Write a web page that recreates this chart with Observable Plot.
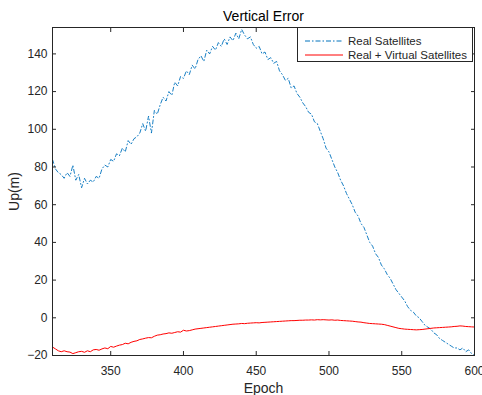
<!DOCTYPE html>
<html>
<head>
<meta charset="utf-8">
<script src="https://cdn.jsdelivr.net/npm/d3@7"></script>
<script src="https://cdn.jsdelivr.net/npm/@observablehq/plot@0.6"></script>
<style>
  html, body { margin: 0; padding: 0; background: #fff; }
  #wrap { position: relative; width: 482px; height: 395px; overflow: hidden; font-family: "Liberation Sans", Arial, sans-serif; }
  #legend { position: absolute; left: 297px; top: 27px; width: 176px; height: 35px; border: 1px solid #262626; background: #fff; box-sizing: border-box; font-size: 11.5px; color: #262626; }
  #legend .row { position: absolute; left: 0; height: 14px; display: flex; align-items: center; }
  #legend svg { margin-left: 7px; margin-right: 5px; }
</style>
</head>
<body>
<div id="wrap"></div>
<script>
const epochs = [310,312,314,316,318,320,322,324,326,328,330,332,334,336,338,340,342,344,346,348,350,352,354,356,358,360,362,364,366,368,370,372,374,376,378,380,382,384,386,388,390,392,394,396,398,400,402,404,406,408,410,412,414,416,418,420,422,424,426,428,430,432,434,436,438,440,442,444,446,448,450,452,454,456,458,460,462,464,466,468,470,472,474,476,478,480,482,484,486,488,490,492,494,496,498,500,502,504,506,508,510,512,514,516,518,520,522,524,526,528,530,532,534,536,538,540,542,544,546,548,550,552,554,556,558,560,562,564,566,568,570,572,574,576,578,580,582,584,586,588,590,592,594,596,598,600];

const realSat = [84,79,77,76,74,77,75,81,73,76,69,74,71,73,72,75,74,79,81,80,84,83,87,86,90,88,94,92,95,96,98,103,99,107,98,110,108,113,117,115,120,118,125,123,128,127,131,129,134,132,137,139,136,142,140,144,142,146,144,148,145,149,147,151,148,153,150,148,149,145,143,144,140,141,137,138,135,136,131,129,126,127,122,123,119,117,114,112,109,108,104,103,99,95,90,88,84,80,77,73,70,66,63,60,56,54,50,48,44,40,38,34,32,28,26,23,21,18,15,13,11,9,6,4,3,1,0,-2,-4,-5,-6,-8,-9,-11,-12,-13,-14,-15,-16,-16,-17,-16,-18,-17,-19,-20];

const realVirtual = [-15.5,-16.5,-17.5,-18,-17.5,-18,-18.2,-19,-18.5,-18,-17.8,-18.3,-17.5,-18,-17,-16.8,-17.2,-16.5,-16,-16.4,-15.2,-15.6,-15,-14.5,-14.2,-13.5,-13.8,-13,-12.5,-12.2,-11.5,-11.2,-10.8,-10.5,-10.6,-9.8,-9.2,-9,-8.6,-8.4,-8,-8.2,-7.8,-7.4,-7.6,-6.6,-7,-6.8,-6.4,-6,-5.8,-5.6,-5.4,-5.2,-5,-4.8,-4.6,-4.4,-4.2,-4,-3.8,-3.6,-3.4,-3.3,-3.2,-3,-3.1,-2.9,-2.8,-2.7,-2.6,-2.7,-2.5,-2.4,-2.3,-2.2,-2.1,-2,-1.9,-1.8,-1.7,-1.6,-1.5,-1.5,-1.4,-1.3,-1.3,-1.2,-1.2,-1.1,-1.2,-1.0,-1.1,-1.0,-1.1,-1.2,-1.1,-1.3,-1.2,-1.4,-1.5,-1.6,-1.7,-1.8,-2.0,-2.2,-2.3,-2.6,-2.8,-3.0,-3.1,-3.2,-3.3,-3.4,-3.6,-4.0,-4.4,-4.8,-5.2,-5.6,-5.8,-6,-6.1,-6.2,-6.3,-6.4,-6.3,-6.2,-6.0,-5.8,-5.6,-5.4,-5.3,-5.2,-5.1,-5.0,-4.9,-4.8,-4.6,-4.5,-4.3,-4.4,-4.6,-4.7,-4.8,-4.9];

const xTicks = [350, 400, 450, 500, 550, 600];
const yTicks = [-20, 0, 20, 40, 60, 80, 100, 120, 140];
const seriesNames = ["Real Satellites", "Real + Virtual Satellites"];
const seriesColors = ["#0072BD", "#FF0000"];

const blueData = epochs.map((e, i) => ({epoch: e, value: realSat[i]}));
const redData = epochs.map((e, i) => ({epoch: e, value: realVirtual[i]}));

const axisColor = "#262626";

const chart = Plot.plot({
  width: 482,
  height: 395,
  marginLeft: 52,
  marginRight: 8,
  marginTop: 27,
  marginBottom: 40,
  style: {fontFamily: "'Liberation Sans', Arial, sans-serif", fontSize: "12px", color: axisColor, background: "#fff", overflow: "visible"},
  x: {domain: [310, 600]},
  y: {domain: [-20, 154]},
  marks: [
    Plot.line(blueData, {x: "epoch", y: "value", stroke: seriesColors[0], strokeWidth: 0.9, strokeDasharray: "4,2.5,1,2.5"}),
    Plot.line(redData, {x: "epoch", y: "value", stroke: seriesColors[1], strokeWidth: 1}),
    Plot.frame({stroke: axisColor, strokeWidth: 1}),
    Plot.axisX(xTicks, {anchor: "bottom", tickSize: 0, tickPadding: 11, label: null, fill: axisColor}),
    Plot.axisY(yTicks, {anchor: "left", tickSize: 0, tickPadding: 5, label: null, fill: axisColor}),
    Plot.axisX(xTicks, {anchor: "bottom", tickSize: -4, tickFormat: () => "", label: null, stroke: axisColor}),
    Plot.axisX(xTicks, {anchor: "top", tickSize: -4, tickFormat: () => "", label: null, stroke: axisColor}),
    Plot.axisY(yTicks, {anchor: "left", tickSize: -4, tickFormat: () => "", label: null, stroke: axisColor}),
    Plot.axisY(yTicks, {anchor: "right", tickSize: -4, tickFormat: () => "", label: null, stroke: axisColor}),
    Plot.text(["Vertical Error"], {frameAnchor: "top", dy: -11, lineAnchor: "middle", fontSize: 14, fill: "#000"}),
    Plot.text(["Epoch"], {frameAnchor: "bottom", dy: 33, lineAnchor: "middle", fontSize: 14, fill: axisColor}),
    Plot.text(["Up(m)"], {frameAnchor: "left", dx: -38, rotate: -90, lineAnchor: "middle", textAnchor: "middle", fontSize: 14, fill: axisColor})
  ]
});

const wrap = document.getElementById("wrap");
wrap.appendChild(chart);

const legend = document.createElement("div");
legend.id = "legend";
seriesNames.forEach((name, i) => {
  const row = document.createElement("div");
  row.className = "row";
  row.style.top = (i === 0 ? 6 : 20) + "px";
  const dash = i === 0 ? 'stroke-dasharray="5,2,1.5,2"' : "";
  row.innerHTML = `<svg width="38" height="4"><line x1="0" y1="2" x2="38" y2="2" stroke="${seriesColors[i]}" stroke-width="1" ${dash}></line></svg><span>${name}</span>`;
  legend.appendChild(row);
});
wrap.appendChild(legend);
</script>
</body>
</html>
